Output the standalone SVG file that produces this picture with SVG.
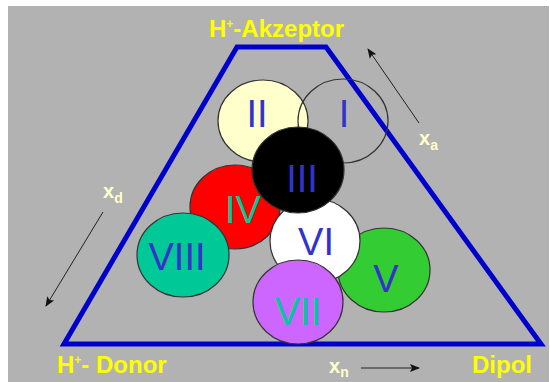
<svg xmlns="http://www.w3.org/2000/svg" width="550" height="382" viewBox="0 0 550 382">
<style>
.c{stroke:#333;stroke-width:1.2}
.n{font-family:"Liberation Sans",Arial,sans-serif;font-size:38px;fill:#3333CC;text-anchor:middle}
.t{fill:#00CC99}
.lab{font-family:"Liberation Sans",Arial,sans-serif;font-weight:bold;font-size:24px;fill:#FFFF00}
.x{font-family:"Liberation Sans",Arial,sans-serif;font-weight:bold;font-size:20px;fill:#FFFFCC}
.ar{stroke:#222;stroke-width:1;fill:none;marker-end:url(#ah)}
</style>
<defs>
<marker id="ah" viewBox="0 0 10 10" refX="9" refY="5" markerWidth="10" markerHeight="10" markerUnits="userSpaceOnUse" orient="auto">
<path d="M0,1 L10,5 L0,9 L2,5 Z" fill="#111"/>
</marker>
</defs>
<rect x="8" y="6" width="541" height="376" fill="#B2B2B2"/>
<g id="triangle">
<polygon points="237,47 326,47 541,344 64,344" fill="none" stroke="#0000CC" stroke-width="5" stroke-linejoin="miter"/>
</g>
<g id="connectors">
<line class="ar" x1="419" y1="123" x2="368" y2="49"/>
<line class="ar" x1="103" y1="212" x2="46" y2="306"/>
<line class="ar" x1="361" y1="368" x2="419" y2="368"/>
</g>
<g id="node-IV"><ellipse class="c" cx="235" cy="207" rx="45" ry="42" fill="#FF0000"/><text class="n t" x="243" y="223">IV</text></g>
<g id="node-VIII"><ellipse class="c" cx="183" cy="255" rx="46" ry="42" fill="#00C896"/><text class="n" x="177" y="270">VIII</text></g>
<g id="node-V"><ellipse class="c" cx="384" cy="270" rx="46" ry="42" fill="#33CC33"/><text class="n" x="386" y="292">V</text></g>
<g id="node-VI"><ellipse class="c" cx="315" cy="241" rx="45" ry="42" fill="#FFFFFF"/><text class="n" x="316" y="255">VI</text></g>
<g id="node-II"><ellipse class="c" cx="263" cy="121" rx="45" ry="41" fill="#FFFFCC"/><text class="n" x="257" y="127">II</text></g>
<g id="node-I"><ellipse class="c" cx="343" cy="121" rx="45" ry="42" fill="none"/><text class="n" x="344" y="127">I</text></g>
<g id="node-III"><ellipse class="c" cx="298" cy="170" rx="46" ry="43" fill="#000000"/><text class="n" x="302" y="192">III</text></g>
<g id="node-VII"><ellipse class="c" cx="298" cy="302" rx="45" ry="42" fill="#CC66FF"/><text class="n t" x="298" y="325">VII</text></g>
<g id="labels">
<text class="lab" x="209" y="37">H<tspan font-size="12" dy="-9">+</tspan><tspan dy="9">-Akzeptor</tspan></text>
<text class="lab" x="57" y="373">H<tspan font-size="12" dy="-9">+</tspan><tspan dy="9">- Donor</tspan></text>
<text class="lab" x="472" y="373">Dipol</text>
<text class="x" x="419" y="145">x<tspan font-size="14" dy="5">a</tspan></text>
<text class="x" x="103" y="198">x<tspan font-size="14" dy="5">d</tspan></text>
<text class="x" x="329" y="373">x<tspan font-size="14" dy="4">n</tspan></text>
</g>
</svg>
